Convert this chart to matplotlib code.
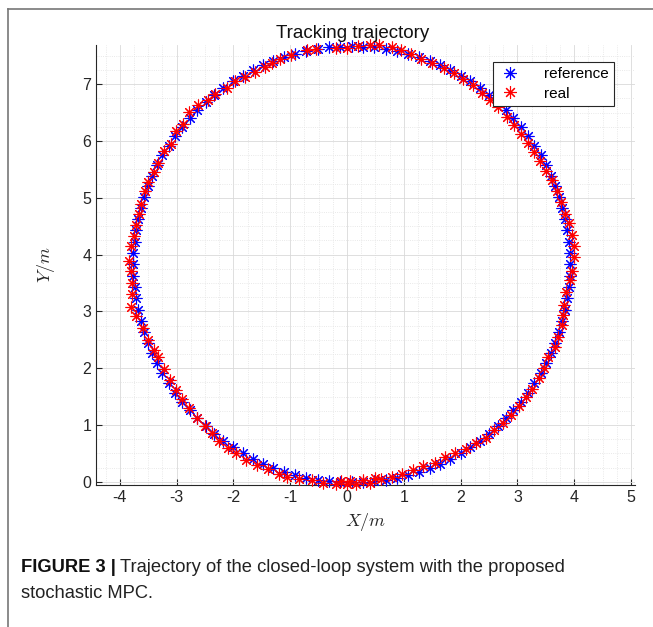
import numpy as np
import matplotlib
matplotlib.use('Agg')
from matplotlib import pyplot as plt
from matplotlib.lines import Line2D
from matplotlib.ticker import MultipleLocator

plt.rcParams['font.family'] = ['Liberation Sans', 'DejaVu Sans']
plt.rcParams['mathtext.fontset'] = 'cm'
plt.rcParams['axes.unicode_minus'] = False

# reference trajectory (blue)
ref_x = [0.08, 0.28, 0.48, 0.68, 0.88, 1.07, 1.27, 1.46, 1.64, 1.82, 2.00, 2.17, 2.34, 2.50, 2.65,
         2.80, 2.93, 3.06, 3.19, 3.30, 3.41, 3.50, 3.59, 3.67, 3.73, 3.79, 3.84, 3.87, 3.90, 3.92,
         3.92, 3.92, 3.90, 3.87, 3.84, 3.79, 3.73, 3.67, 3.59, 3.50, 3.41, 3.30, 3.19, 3.06, 2.93,
         2.80, 2.65, 2.50, 2.34, 2.17, 2.00, 1.82, 1.64, 1.46, 1.27, 1.07, 0.88, 0.68, 0.48, 0.28,
         0.08, -0.12, -0.32, -0.52, -0.72, -0.91, -1.11, -1.30, -1.48, -1.66, -1.84, -2.01, -2.18, -2.34, -2.49,
         -2.64, -2.77, -2.90, -3.03, -3.14, -3.25, -3.34, -3.43, -3.51, -3.57, -3.63, -3.68, -3.71, -3.74, -3.76,
         -3.76, -3.76, -3.74, -3.71, -3.68, -3.63, -3.57, -3.51, -3.43, -3.34, -3.25, -3.14, -3.03, -2.90, -2.77,
         -2.64, -2.49, -2.34, -2.18, -2.01, -1.84, -1.66, -1.48, -1.30, -1.11, -0.91, -0.72, -0.52, -0.32, -0.12]
ref_y = [-0.01, 0.00, 0.01, 0.04, 0.07, 0.12, 0.18, 0.25, 0.32, 0.41, 0.51, 0.61, 0.72, 0.85, 0.98,
         1.12, 1.26, 1.41, 1.57, 1.74, 1.91, 2.09, 2.27, 2.45, 2.64, 2.84, 3.03, 3.23, 3.43, 3.63,
         3.83, 4.03, 4.23, 4.43, 4.63, 4.82, 5.02, 5.21, 5.39, 5.57, 5.75, 5.92, 6.09, 6.25, 6.40,
         6.54, 6.68, 6.81, 6.94, 7.05, 7.15, 7.25, 7.34, 7.41, 7.48, 7.54, 7.59, 7.62, 7.65, 7.66,
         7.67, 7.66, 7.65, 7.62, 7.59, 7.54, 7.48, 7.41, 7.34, 7.25, 7.15, 7.05, 6.94, 6.81, 6.68,
         6.54, 6.40, 6.25, 6.09, 5.92, 5.75, 5.57, 5.39, 5.21, 5.02, 4.82, 4.63, 4.43, 4.23, 4.03,
         3.83, 3.63, 3.43, 3.23, 3.03, 2.84, 2.64, 2.45, 2.27, 2.09, 1.91, 1.74, 1.57, 1.41, 1.26,
         1.12, 0.98, 0.85, 0.72, 0.61, 0.51, 0.41, 0.32, 0.25, 0.18, 0.12, 0.07, 0.04, 0.01, 0.00]

# real trajectory (red)
real_x = [0.16, 0.40, 0.60, 0.80, 0.97, 1.17, 1.34, 1.55, 1.72, 1.90, 2.10, 2.27, 2.44, 2.58, 2.75,
          2.88, 3.03, 3.15, 3.26, 3.38, 3.47, 3.54, 3.66, 3.72, 3.78, 3.80, 3.82, 3.85, 3.93, 3.96,
          3.99, 3.99, 3.96, 3.90, 3.84, 3.76, 3.69, 3.60, 3.50, 3.40, 3.30, 3.18, 3.06, 2.94, 2.82,
          2.66, 2.52, 2.38, 2.22, 2.05, 1.88, 1.70, 1.50, 1.30, 1.12, 0.95, 0.80, 0.56, 0.40, 0.20,
          0.00, -0.20, -0.55, -0.70, -0.98, -1.18, -1.32, -1.45, -1.62, -1.80, -1.98, -2.12, -2.32, -2.45, -2.62,
          -2.78, -2.88, -3.02, -3.10, -3.22, -3.32, -3.40, -3.50, -3.56, -3.63, -3.67, -3.72, -3.75, -3.80, -3.84,
          -3.80, -3.78, -3.78, -3.80, -3.72, -3.60, -3.50, -3.40, -3.33, -3.22, -3.12, -3.02, -2.90, -2.78, -2.65,
          -2.50, -2.38, -2.25, -2.10, -1.95, -1.78, -1.58, -1.40, -1.20, -1.05, -0.85, -0.62, -0.42, -0.20, 0.00,
          0.05, 0.28, 0.50, -0.10]
real_y = [-0.04, -0.02, 0.05, 0.09, 0.13, 0.20, 0.27, 0.33, 0.43, 0.50, 0.58, 0.68, 0.77, 0.92, 1.03,
          1.18, 1.33, 1.50, 1.64, 1.83, 2.01, 2.20, 2.37, 2.55, 2.76, 2.94, 3.12, 3.34, 3.55, 3.72,
          3.95, 4.15, 4.34, 4.55, 4.72, 4.93, 5.12, 5.31, 5.47, 5.65, 5.80, 5.96, 6.12, 6.28, 6.43,
          6.60, 6.73, 6.85, 6.98, 7.09, 7.20, 7.29, 7.37, 7.45, 7.53, 7.60, 7.65, 7.70, 7.69, 7.68,
          7.64, 7.63, 7.62, 7.60, 7.52, 7.45, 7.38, 7.30, 7.22, 7.12, 7.05, 6.93, 6.82, 6.72, 6.63,
          6.52, 6.30, 6.17, 5.95, 5.82, 5.62, 5.45, 5.28, 5.12, 4.90, 4.72, 4.52, 4.33, 4.15, 3.88,
          3.72, 3.50, 3.30, 3.08, 2.92, 2.70, 2.50, 2.32, 2.20, 1.98, 1.80, 1.62, 1.45, 1.30, 1.12,
          0.98, 0.86, 0.72, 0.60, 0.50, 0.38, 0.30, 0.22, 0.14, 0.08, 0.05, 0.03, -0.02, -0.03, -0.04,
          0.02, 0.03, 0.06, 0.01]

x_ticks = [-4, -3, -2, -1, 0, 1, 2, 3, 4, 5]
y_ticks = [0, 1, 2, 3, 4, 5, 6, 7]

axcol = '#262626'
star = (8, 2, 0)

fig = plt.figure(figsize=(6.53, 6.27), dpi=100)
ax = fig.add_axes([96 / 653, 0.227, 539 / 653, 0.702])

ax.plot(ref_x, ref_y, linestyle='none', marker=star, markersize=8.5, markeredgewidth=0.8,
        color='#0000ff', label='reference', clip_on=False, zorder=3)
ax.plot(real_x, real_y, linestyle='none', marker=star, markersize=8.5, markeredgewidth=0.8,
        color='#ff0000', label='real', clip_on=False, zorder=4)

ax.set_xlim(-4.42, 5.07)
ax.set_ylim(-0.05, 7.7)
ax.set_xticks(x_ticks)
ax.set_yticks(y_ticks)
ax.xaxis.set_minor_locator(MultipleLocator(0.25))
ax.yaxis.set_minor_locator(MultipleLocator(0.25))
ax.grid(which='major', color='#d9d9d9', linewidth=0.6, linestyle='-')
ax.grid(which='minor', color='#e2e2e2', linewidth=0.6, linestyle=':')
ax.set_axisbelow(True)

for s in ['top', 'right']:
    ax.spines[s].set_visible(False)
for s in ['left', 'bottom']:
    ax.spines[s].set_color(axcol)
    ax.spines[s].set_linewidth(0.8)
ax.tick_params(which='major', direction='in', length=4, width=0.8, colors=axcol, labelsize=11.5)
ax.tick_params(which='minor', direction='in', length=0)

fig.text(353 / 653, 1 - 33 / 627, 'Tracking trajectory', fontsize=13.5, color='#111111',
         ha='center', va='center')
ax.set_xlabel('$X/m$', fontsize=13, color=axcol, labelpad=5)
ax.set_ylabel('$Y/m$', fontsize=13, color=axcol, labelpad=18)

leg = ax.legend(loc='upper right', bbox_to_anchor=(614 / 653, 1 - 62 / 627),
                bbox_transform=fig.transFigure, borderaxespad=0, fontsize=11,
                fancybox=False, framealpha=1, edgecolor=axcol, handlelength=1.6,
                handletextpad=1.4, borderpad=0.35, labelspacing=0.35, markerscale=1.05)
leg.get_frame().set_linewidth(0.8)

# page frame around the figure
fig.add_artist(Line2D([8 / 653, 8 / 653], [0, 1 - 9 / 627], transform=fig.transFigure,
                      color='#777777', linewidth=1.2))
fig.add_artist(Line2D([8 / 653, 1], [1 - 9 / 627, 1 - 9 / 627], transform=fig.transFigure,
                      color='#777777', linewidth=1.2))

# caption
t1 = fig.text(21 / 653, 1 - 568 / 627, 'FIGURE 3 |', fontsize=13.2, fontweight='bold',
              color='#111111', va='center', ha='left')
fig.canvas.draw()
bb = t1.get_window_extent(renderer=fig.canvas.get_renderer())
fig.text(bb.x1 / fig.bbox.width + 4 / 653, 1 - 568 / 627,
         'Trajectory of the closed-loop system with the proposed',
         fontsize=13.2, color='#222222', va='center', ha='left')
fig.text(21 / 653, 1 - 594 / 627, 'stochastic MPC.', fontsize=13.2, color='#222222',
         va='center', ha='left')

fig.savefig('out.png', dpi=100)
